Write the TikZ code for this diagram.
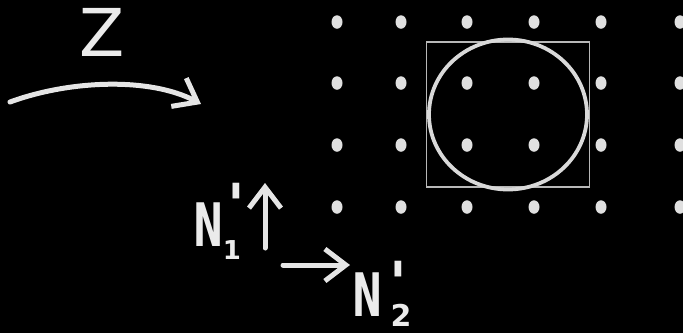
\documentclass[tikz,border=0pt]{standalone}
\usepackage{fontspec}
\newfontfamily\handfamily{DejaVu Sans}
\usetikzlibrary{arrows.meta,positioning,shapes.geometric}

\newcommand\handfont[1]{\fontsize{#1}{#1}\selectfont\handfamily\bfseries}

\begin{document}
\begin{tikzpicture}[
  x=1pt,y=-1pt,
  chalk/.style={draw=white!90!black,line width=5pt,line cap=round},
  arrow/.style={chalk,-{Straight Barb[length=21pt,width=32pt]}},
  lattice/.style={ellipse,fill=white!88!black,inner sep=0pt,
    minimum width=11pt,minimum height=13.5pt},
  letter/.style={text=white!92!black,inner sep=0pt,font=\handfont{60}},
  index/.style={text=white!92!black,inner sep=0pt,font=\handfont{30}},
  prime/.style={text=white!92!black,inner sep=0pt,font=\handfont{58},anchor=north},
  cell/.style={draw=white!72!black,line width=1.6pt,minimum width=163pt,
    minimum height=145pt,inner sep=0pt}
]
  \fill[black] (0,0) rectangle (683,333);
  \useasboundingbox (0,0) rectangle (683,333);

  % lattice points
  \foreach \x in {337,401,467,534,601,680}
    \foreach \y in {22,83,145,207}
      \node[lattice] (p-\x-\y) at (\x,\y) {};

  % unit cell with the atom
  \node[cell] (unitcell) at (508,114.5) {};
  \draw[draw=white!85!black,line width=3.8pt] (unitcell.center) ellipse (79 and 75);

  % propagation direction
  \node[letter,font=\fontsize{66}{66}\selectfont\handfamily] (zlabel) at (102,32) {Z};
  \coordinate (zfoot) at (10,102);
  \coordinate (zhead) at (201,104);
  \draw[arrow] (zfoot) .. controls (70,80) and (150,77) .. (zhead);

  % reciprocal axes
  \node[letter] (n1) at (209,225) {\scalebox{0.6}[1]{N}};
  \node[index,font=\handfont{26}] (n1sub) at (232,250) {1};
  \node[prime] (n1prime) at (236,183) {'};
  \coordinate (upfoot) at (265,248);
  \coordinate (uphead) at (265,183);
  \draw[arrow] (upfoot) -- (uphead);

  \node[letter] (n2) at (368,295) {\scalebox{0.6}[1]{N}};
  \node[index] (n2sub) at (401,315) {2};
  \node[prime] (n2prime) at (398,261) {'};
  \coordinate (rfoot) at (283,265);
  \coordinate (rhead) at (350,265);
  \draw[arrow] (rfoot) -- (rhead);
\end{tikzpicture}
\end{document}
